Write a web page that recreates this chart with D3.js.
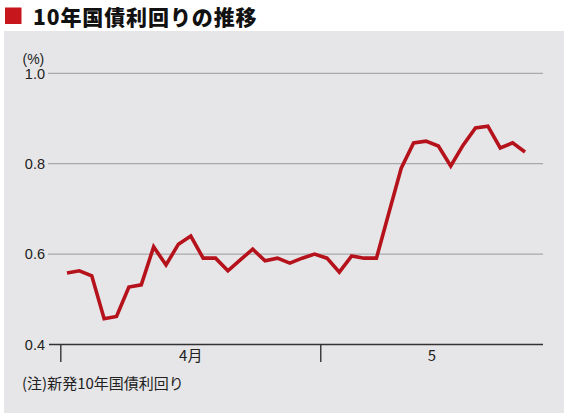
<!DOCTYPE html>
<html><head><meta charset="utf-8">
<script src="https://cdn.jsdelivr.net/npm/d3@7"></script>
<style>
html,body{margin:0;padding:0;background:#fff;}
svg{display:block;}
</style></head>
<body>
<svg id="c" width="570" height="415"></svg>
<script>
const title = "10年国債利回りの推移";
const note = "(注)新発10年国債利回り";
const unitLabel = "(%)";
const dates = ["4/1","4/2","4/3","4/4","4/5","4/8","4/9","4/10","4/11","4/12","4/15","4/16","4/17","4/18","4/19","4/22","4/23","4/24","4/25","4/26","4/30",
               "5/1","5/2","5/7","5/8","5/9","5/10","5/13","5/14","5/15","5/16","5/17","5/20","5/21","5/22","5/23","5/24","5/27"];
const yields = [0.558,0.563,0.552,0.457,0.462,0.527,0.532,0.616,0.576,0.622,0.640,0.591,0.591,0.563,0.587,0.611,0.585,0.591,0.580,0.591,0.600,
                0.591,0.560,0.596,0.591,0.591,0.691,0.790,0.846,0.850,0.839,0.795,0.841,0.879,0.883,0.835,0.846,0.826];
const yTicks = [0.4, 0.6, 0.8, 1.0];
const monthLabels = ["4月", "5"];
const monthStartIdx = [0, 21];

const svg = d3.select("#c");
const font = "'Liberation Sans', Arial, sans-serif";
const jfont = "'Noto Sans CJK JP', sans-serif";

// header
svg.append("rect").attr("x",5).attr("y",7.5).attr("width",16.5).attr("height",16.5).attr("fill","#c8161d");
svg.append("text").attr("x",33).attr("y",25).attr("font-family",jfont).attr("font-weight",900)
  .attr("font-size",21).attr("letter-spacing",0.9).attr("fill","#111").text(title);

// panel
svg.append("rect").attr("x",4).attr("y",31).attr("width",560).attr("height",382).attr("fill","#e6e6e8");

const x = d3.scaleLinear().domain([0, dates.length-1]).range([67, 525]);
const y = d3.scaleLinear().domain([0.4, 1.0]).range([344.5, 73.3]);
const left = 48, right = 543;

// grid
svg.append("g").selectAll("line").data(yTicks.filter(d=>d>0.4)).join("line")
  .attr("x1",left).attr("x2",right).attr("y1",d=>y(d)).attr("y2",d=>y(d))
  .attr("stroke","#a9a9ab").attr("stroke-width",1.2);

svg.append("g").selectAll("text").data(yTicks).join("text")
  .attr("x",45).attr("y",d=>y(d)).attr("dy","0.36em").attr("text-anchor","end")
  .attr("font-family",font).attr("font-size",14.5).attr("fill","#222")
  .text(d=>d3.format(".1f")(d));

svg.append("text").attr("x",22.5).attr("y",63.5).attr("font-family",font).attr("font-size",14)
  .attr("fill","#222").text(unitLabel);

// x axis
svg.append("line").attr("x1",left+1).attr("x2",right).attr("y1",y(0.4)).attr("y2",y(0.4))
  .attr("stroke","#333").attr("stroke-width",1.4);
const bounds = monthStartIdx.map(i=>x(i-0.5));
svg.append("g").selectAll("line").data(bounds).join("line")
  .attr("x1",d=>d).attr("x2",d=>d).attr("y1",y(0.4)).attr("y2",362)
  .attr("stroke","#333").attr("stroke-width",1.4);
const ends = bounds.concat([right]);
svg.append("g").selectAll("text").data(monthLabels).join("text")
  .attr("x",(d,i)=>(ends[i]+ends[i+1])/2).attr("y",361)
  .attr("text-anchor","middle").attr("font-family",jfont).attr("font-size",15).attr("fill","#222")
  .text(d=>d);

// line
const line = d3.line().x((d,i)=>x(i)).y(d=>y(d));
svg.append("path").datum(yields).attr("d",line).attr("fill","none")
  .attr("stroke","#b5121b").attr("stroke-width",3.6).attr("stroke-linejoin","miter").attr("stroke-linecap","butt");

// note
svg.append("text").attr("x",22).attr("y",389).attr("font-family",jfont).attr("font-size",15)
  .attr("fill","#222").text(note);
</script>
</body></html>
